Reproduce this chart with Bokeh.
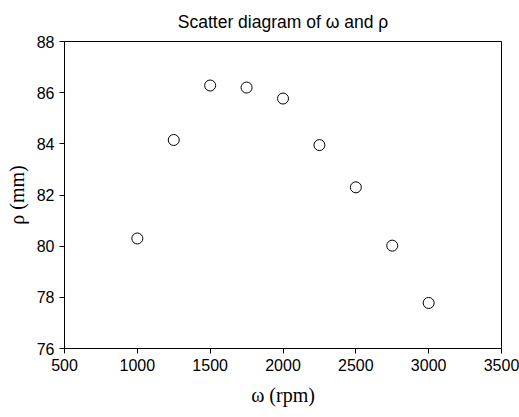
from bokeh.plotting import figure
from bokeh.models import Range1d, FixedTicker
from bokeh.embed import file_html
from bokeh.resources import INLINE

omega = [1000, 1250, 1500, 1750, 2000, 2250, 2500, 2750, 3000]
rho = [80.3, 84.15, 86.28, 86.2, 85.77, 83.95, 82.3, 80.02, 77.78]
x_ticks = [500, 1000, 1500, 2000, 2500, 3000, 3500]
y_ticks = [76, 78, 80, 82, 84, 86, 88]

p = figure(width=519, height=417, output_backend="svg", toolbar_location=None,
           x_range=Range1d(500, 3500), y_range=Range1d(76, 88),
           title="Scatter diagram of \u03c9 and \u03c1",
           min_border_left=64, min_border_right=18, min_border_top=40, min_border_bottom=69)

p.title.align = "center"
p.title.text_font = "Liberation Sans"
p.title.text_font_size = "17.5px"
p.title.text_font_style = "normal"
p.title.text_color = "black"
p.title.standoff = 19

p.scatter(omega, rho, marker="circle", size=11, fill_color="white",
          line_color="black", line_width=1)

p.xgrid.visible = False
p.ygrid.visible = False
p.outline_line_color = "black"
p.outline_line_width = 1
p.background_fill_color = "white"
p.border_fill_color = "white"

for ax, ticks in ((p.xaxis[0], x_ticks), (p.yaxis[0], y_ticks)):
    ax.ticker = FixedTicker(ticks=ticks)
    ax.minor_tick_line_color = None
    ax.major_tick_out = 5
    ax.major_tick_in = 0
    ax.major_label_text_font = "Liberation Sans"
    ax.major_label_text_font_size = "16px"
    ax.major_label_text_color = "black"
    ax.axis_line_color = "black"
    ax.major_tick_line_color = "black"
    ax.axis_label_text_font = "Liberation Serif"
    ax.axis_label_text_font_size = "20px"
    ax.axis_label_text_font_style = "normal"
    ax.axis_label_text_color = "black"

p.xaxis.axis_label = "\u03c9 (rpm)"
p.yaxis.axis_label = "\u03c1 (mm)"
p.xaxis.axis_label_standoff = 10
p.yaxis.axis_label_standoff = 6

open("out.html", "w").write(file_html(p, INLINE))
